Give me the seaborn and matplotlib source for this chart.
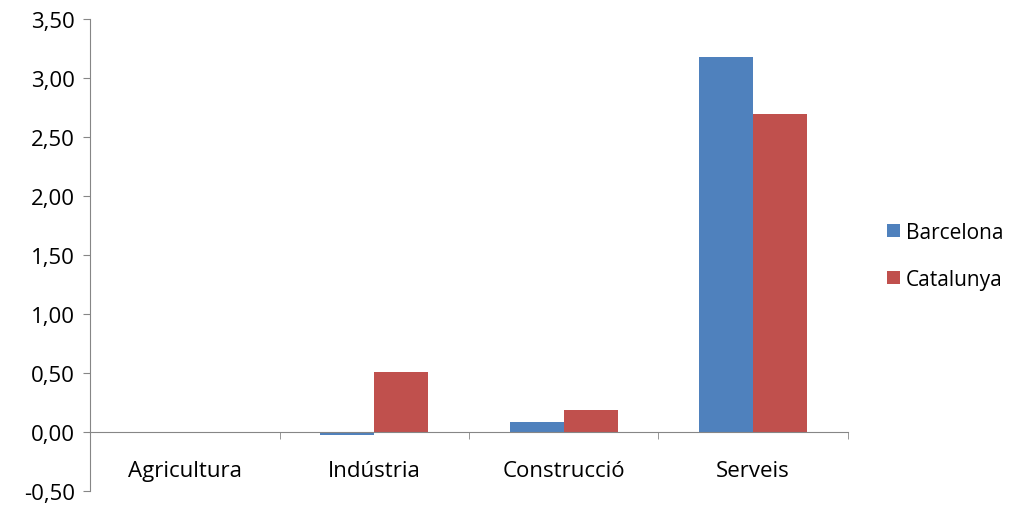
import pandas as pd
import numpy as np
import seaborn as sns
import matplotlib.pyplot as plt
from matplotlib.ticker import FuncFormatter, FixedLocator

# data
sectors = ["Agricultura", "Indústria", "Construcció", "Serveis"]
barcelona = [0.00, -0.025, 0.08, 3.18]
catalunya = [-0.01, 0.51, 0.185, 2.70]

df = pd.DataFrame({
    "sector": sectors * 2,
    "value": barcelona + catalunya,
    "area": ["Barcelona"] * 4 + ["Catalunya"] * 4,
})

sns.set_style("white")
plt.rcParams['font.family'] = ['Open Sans', 'DejaVu Sans']
plt.rcParams['text.color'] = 'black'
plt.rcParams['xtick.color'] = 'black'
plt.rcParams['ytick.color'] = 'black'

fig = plt.figure(figsize=(10.24, 5.06), dpi=100)
ax = fig.add_axes([0.088, 0.028, 0.74, 0.932])

sns.barplot(data=df, x="sector", y="value", hue="area",
            palette=["#4F81BD", "#C0504D"], width=0.57,
            saturation=1, ax=ax, errorbar=None, linewidth=0)

ax.set_ylim(-0.5, 3.5)
ax.set_xlim(-0.5, 3.5)
ax.set_yticks(np.arange(-0.5, 3.51, 0.5))
ax.yaxis.set_major_formatter(FuncFormatter(lambda v, p: f"{v:.2f}".replace(".", ",")))
ax.set_xlabel("")
ax.set_ylabel("")

axis_col = "#868686"
for s in ["top", "right"]:
    ax.spines[s].set_visible(False)
ax.spines["left"].set_color(axis_col)
ax.spines["bottom"].set_color(axis_col)
ax.spines["bottom"].set_position(("data", 0))

ax.tick_params(axis="y", left=True, length=5, color=axis_col, labelcolor="black",
               labelsize=16, pad=6, direction="out")
ax.tick_params(axis="x", which="major", bottom=True, length=0, labelcolor="black",
               labelsize=16, pad=20)
ax.xaxis.set_minor_locator(FixedLocator([0.5, 1.5, 2.5, 3.5]))
ax.tick_params(axis="x", which="minor", bottom=True, length=5, color=axis_col, direction="out")

ax.legend(loc="center left", bbox_to_anchor=(0.848, 0.492), bbox_transform=fig.transFigure,
          frameon=False, fontsize=15, handlelength=0.6, handleheight=0.6,
          handletextpad=0.3, labelspacing=1.25)

fig.savefig("out.png", dpi=100)
